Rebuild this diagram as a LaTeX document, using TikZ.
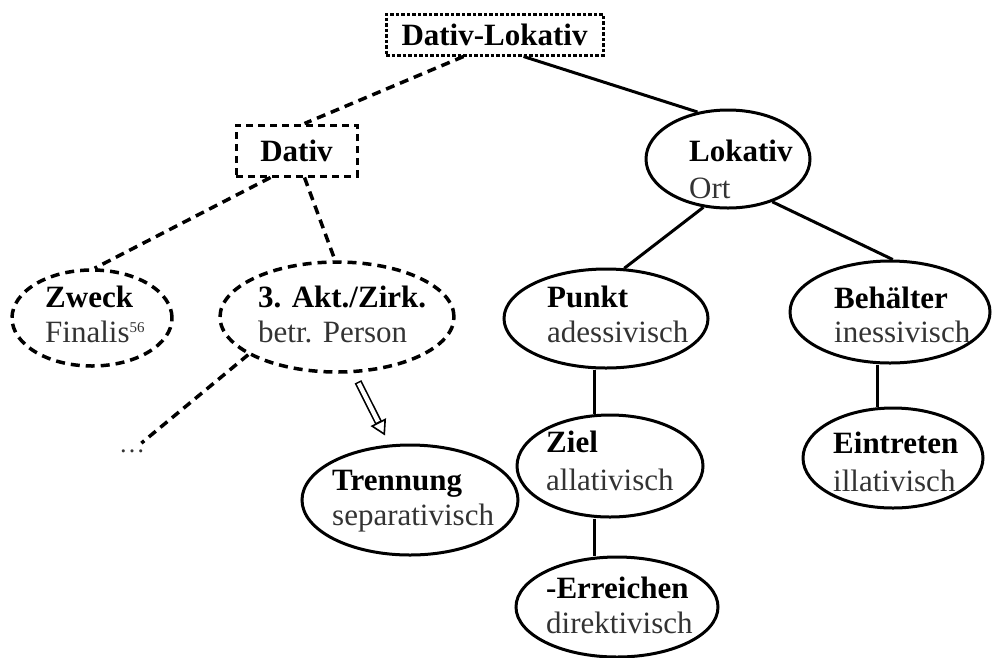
\documentclass[tikz,border=0pt]{standalone}
\usepackage{fontspec}
\setmainfont{Liberation Serif}
\usetikzlibrary{shapes.geometric,calc,arrows.meta}

\begin{document}
\begin{tikzpicture}[x=1pt,y=-1pt,
  oval/.style={ellipse, draw, line width=3pt, inner sep=0pt},
  dashoval/.style={ellipse, draw, line width=3.5pt, inner sep=0pt, dash pattern=on 9pt off 6pt},
  solidlink/.style={line width=3pt},
  dashlink/.style={line width=3.5pt, dash pattern=on 9pt off 6pt},
  hd/.style={anchor=base west, inner sep=0pt, font=\fontsize{31}{35}\selectfont\bfseries},
  sub/.style={anchor=base west, inner sep=0pt, font=\fontsize{31}{35}\selectfont, text=black!80},
  boxlbl/.style={draw, inner sep=0pt, font=\fontsize{31}{35}\selectfont\bfseries},
]
\path[use as bounding box] (0,0) rectangle (1006,657);

% upper boxes
\node[boxlbl, line width=3pt, dash pattern=on 3.5pt off 2pt,
      minimum width=217pt, minimum height=41pt] (dl) at (494.5,34.5) {Dativ-Lokativ};
\node[boxlbl, line width=3pt, dash pattern=on 7pt off 5pt,
      minimum width=121pt, minimum height=51pt] (dat) at (296.5,150.5) {Dativ};

% ovals
\node[oval, minimum width=164pt, minimum height=98pt] (lok) at (728,159) {};
\node[dashoval, minimum width=160pt, minimum height=96pt] (zw) at (92,318) {};
\node[dashoval, minimum width=234pt, minimum height=110pt] (akt) at (337,317) {};
\node[oval, minimum width=204pt, minimum height=99pt] (pk) at (606,318.5) {};
\node[oval, minimum width=200pt, minimum height=102pt] (bh) at (890,312) {};
\node[oval, minimum width=216pt, minimum height=110pt] (tre) at (410,500) {};
\node[oval, minimum width=186pt, minimum height=102pt] (zl) at (610,466) {};
\node[oval, minimum width=180pt, minimum height=100pt] (ei) at (893,458) {};
\node[oval, minimum width=202pt, minimum height=100pt] (er) at (617,607) {};

% oval texts
\node[hd] (lokA) at (689,161) {Lokativ};
\node[sub] (lokB) at (689,198) {Ort};
\node[hd] (zwA) at (45,307) {Zweck};
\node[sub] (zwB) at (45,342) {Finalis\textsuperscript{\fontsize{15}{15}\selectfont 56}};
\node[hd] (aktA) at (258,307) {3. Akt./Zirk.};
\node[sub] (aktB) at (258,342) {betr. Person};
\node[hd] (pkA) at (547,307) {Punkt};
\node[sub] (pkB) at (547,342) {adessivisch};
\node[hd] (bhA) at (834,308) {Behälter};
\node[sub] (bhB) at (834,342) {inessivisch};
\node[hd] (treA) at (332,490) {Trennung};
\node[sub] (treB) at (332,525) {separativisch};
\node[hd] (zlA) at (546,452) {Ziel};
\node[sub] (zlB) at (546,490) {allativisch};
\node[hd] (eiA) at (833,453) {Eintreten};
\node[sub] (eiB) at (833,491) {illativisch};
\node[hd] (erA) at (546,598) {-Erreichen};
\node[sub] (erB) at (546,633) {direktivisch};
\node[sub, font=\fontsize{26}{30}\selectfont] (dots) at (119,452) {…};

% connectors
\draw[dashlink] ($(dl.south)+(-31,0)$) -- ($(dat.north)+(8,0)$);
\draw[solidlink] ($(dl.south)+(29,0)$) -- (lok.123);
\draw[dashlink] ($(dat.south)+(-26,0)$) -- (zw.87);
\draw[dashlink] ($(dat.south)+(8,0)$) -- (akt.92);
\draw[dashlink] (akt.203) -- ($(dots.north east)+(-4,-6)$);
\draw[solidlink] (lok.243) -- (pk.70);
\draw[solidlink] (lok.-44) -- (bh.87);
\draw[solidlink] ($(pk.south)+(-12,0)$) -- ($(zl.north)+(-16,0)$);
\draw[solidlink] ($(zl.south)+(-16,0)$) -- ($(er.north)+(-23,0)$);
\draw[solidlink] ($(bh.south)+(-13,0)$) -- ($(ei.north)+(-16,0)$);

% hollow double arrow
\coordinate (aS) at ($(akt.south)+(21,8)$);
\coordinate (aE) at ($(tre.north)+(-25,-8)$);
\draw[line width=1.6pt, -{Triangle[open, length=15pt, width=17pt]}] ($(aE)!16pt!(aS)$) -- (aE);
\draw[line width=7.5pt] (aS) -- ($(aE)!14.5pt!(aS)$);
\draw[line width=4.2pt, white] ($(aS)!1.6pt!(aE)$) -- ($(aE)!15.5pt!(aS)$);
\end{tikzpicture}
\end{document}
